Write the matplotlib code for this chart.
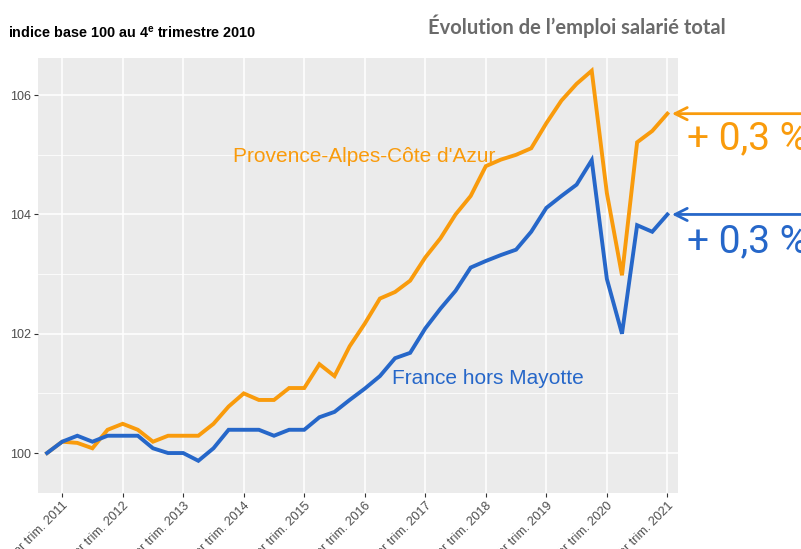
import numpy as np
import matplotlib
matplotlib.use("Agg")
import matplotlib.pyplot as plt
from matplotlib.ticker import MultipleLocator

# quarters from 4e trim. 2010 to 1er trim. 2021
quarters = [f"{q}T{y}" for y in range(2010, 2022) for q in range(1, 5)][3:45]
years = list(range(2011, 2022))
tick_labels = [f"1er trim. {y}" for y in years]

paca = [100.0, 100.19, 100.17, 100.08, 100.39, 100.49, 100.39, 100.19, 100.29,
        100.29, 100.29, 100.49, 100.78, 101.0, 100.89, 100.89, 101.09, 101.09,
        101.49, 101.29, 101.79, 102.17, 102.59, 102.7, 102.89, 103.28, 103.6,
        104.0, 104.31, 104.81, 104.92, 105.0, 105.11, 105.53, 105.91, 106.19,
        106.41, 104.36, 102.98, 105.21, 105.4, 105.69]
france = [100.0, 100.19, 100.29, 100.19, 100.29, 100.29, 100.29, 100.08, 100.0,
          100.0, 99.87, 100.08, 100.39, 100.39, 100.39, 100.29, 100.39, 100.39,
          100.6, 100.69, 100.89, 101.08, 101.29, 101.59, 101.68, 102.09, 102.42,
          102.72, 103.11, 103.22, 103.32, 103.41, 103.71, 104.11, 104.31, 104.5,
          104.91, 102.92, 102.0, 103.82, 103.71, 104.0]
variation = ["+ 0,3 %", "+ 0,3 %"]

ORANGE = "#F99B0C"
BLUE = "#2667C9"
GREY = "#4D4D4D"

plt.rcParams["font.family"] = ["Liberation Sans", "DejaVu Sans"]
plt.rcParams["mathtext.fontset"] = "custom"
plt.rcParams["mathtext.bf"] = "Liberation Sans:bold"
plt.rcParams["mathtext.rm"] = "Liberation Sans"

fig = plt.figure(figsize=(8.01, 5.49), dpi=100)
ax = fig.add_axes([0.0474, 0.102, 0.7990, 0.792])

x = np.arange(len(quarters))
ax.set_facecolor("#EBEBEB")
ax.plot(x, paca, color=ORANGE, lw=2.8, solid_joinstyle="miter", zorder=3)
ax.plot(x, france, color=BLUE, lw=2.8, solid_joinstyle="miter", zorder=3)

ax.set_xlim(-0.6, 41.7)
ax.set_ylim(99.33, 106.62)
ax.set_xticks([quarters.index(f"1T{y}") for y in years])
ax.set_xticklabels(tick_labels, rotation=45, ha="right", rotation_mode="anchor",
                   fontsize=9, color=GREY)
ax.yaxis.set_major_locator(MultipleLocator(2))
ax.yaxis.set_minor_locator(MultipleLocator(1))
ax.tick_params(axis="both", which="major", length=3, color="#333333",
               labelsize=9, labelcolor=GREY, pad=2)
ax.tick_params(axis="y", which="minor", length=0)
ax.grid(which="major", color="white", lw=1.1)
ax.grid(which="minor", axis="y", color="white", lw=0.55)
ax.set_axisbelow(True)
for s in ax.spines.values():
    s.set_visible(False)

ax.text(12.3, 104.97, "Provence-Alpes-Côte d'Azur", color=ORANGE, fontsize=15,
        va="center", ha="left")
ax.text(22.8, 101.25, "France hors Mayotte", color=BLUE, fontsize=15,
        va="center", ha="left")

# arrows and variation labels on the right
for series, col, txt, ty in [(paca, ORANGE, variation[0], 0.748),
                             (france, BLUE, variation[1], 0.560)]:
    ax.annotate("", xy=(x[-1] + 0.3, series[-1]), xycoords="data",
                xytext=(1.0, series[-1]), textcoords=("figure fraction", "data"),
                arrowprops=dict(arrowstyle="->", color=col, lw=2,
                                mutation_scale=22, shrinkA=0, shrinkB=0),
                annotation_clip=False)
    fig.text(0.858, ty, txt, color=col, fontsize=28,
             family=["Liberation Sans Narrow", "Roboto", "DejaVu Sans"],
             va="center", ha="left")

fig.text(0.01, 0.94, r"indice base 100 au 4$^{\mathbf{e}}$ trimestre 2010",
         fontsize=10.4, fontweight="bold", color="black", va="center")
fig.text(0.72, 0.953, "Évolution de l’emploi salarié total", fontsize=14.5,
         fontweight="bold", family=["Lato", "DejaVu Sans"], color="#6A6A6A",
         va="center", ha="center")

fig.savefig("out.png", dpi=100)
